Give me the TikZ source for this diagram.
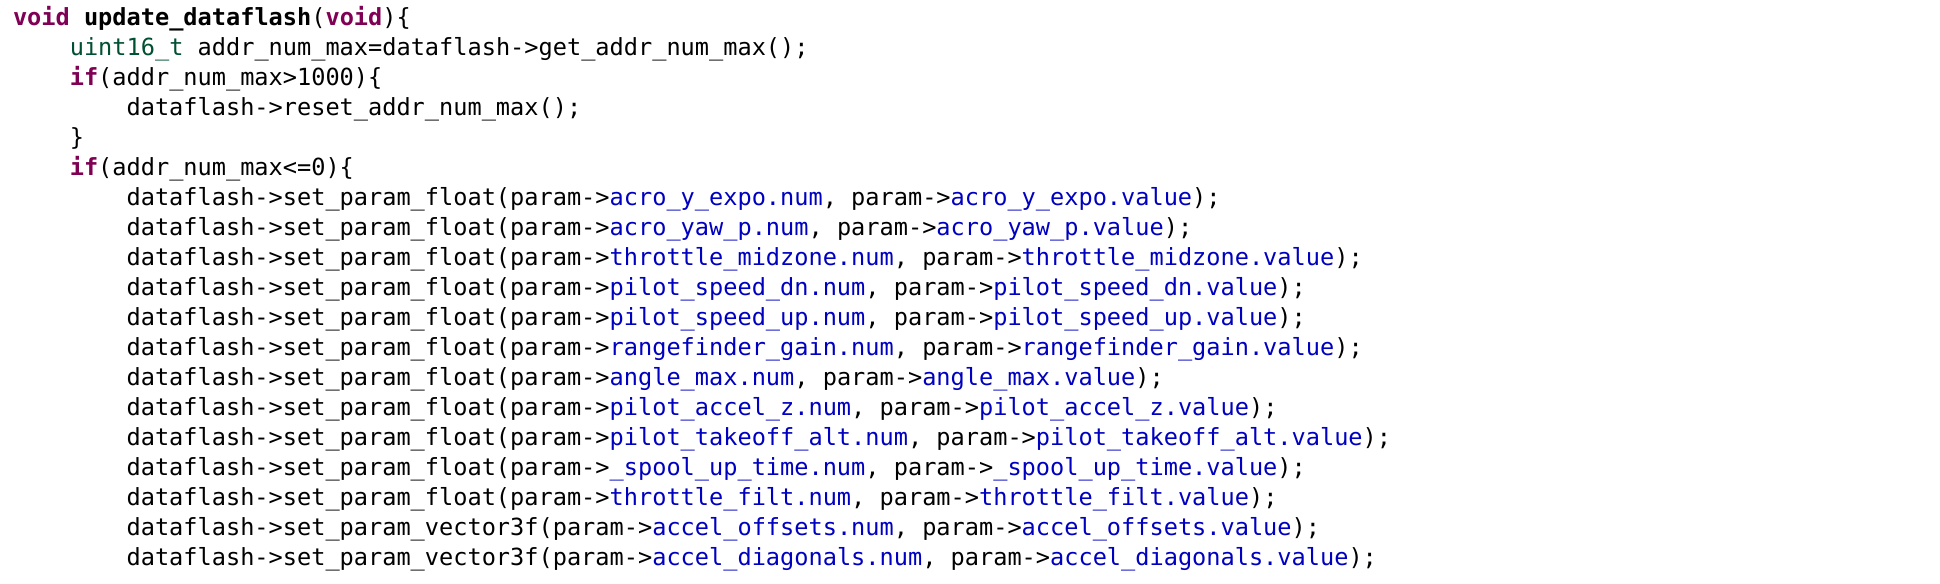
\documentclass[tikz,border=0pt]{standalone}
\usepackage{fontspec}
\newfontfamily\codefont{DejaVu Sans Mono}
\definecolor{kwcol}{HTML}{7F0055}
\definecolor{tycol}{HTML}{005032}
\definecolor{fldcol}{HTML}{0000C0}
\newcommand{\cdkw}[1]{\textbf{\textcolor{kwcol}{#1}}}
\newcommand{\cdty}[1]{\textcolor{tycol}{#1}}
\newcommand{\cdfld}[1]{\textcolor{fldcol}{#1}}
\newcommand{\setf}[1]{dataflash->set\_param\_float(param->\cdfld{#1.num}, param->\cdfld{#1.value});}
\newcommand{\setv}[1]{dataflash->set\_param\_vector3f(param->\cdfld{#1.num}, param->\cdfld{#1.value});}
\begin{document}
\begin{tikzpicture}[x=0.5pt,y=-0.5pt,
  codeline/.style={anchor=base west,inner sep=0pt,outer sep=0pt,
    font=\codefont\fontsize{11.8pt}{15pt}\selectfont}]
\useasboundingbox[fill=white] (0,0) rectangle (1940,584);
\def\ca{13}
\def\cb{69.8}
\def\cc{126.6}
\node[codeline] (l1) at (\ca,25) {\cdkw{void} \textbf{update\_dataflash}(\cdkw{void})\{};
\node[codeline] (l2) at (\cb,55) {\cdty{uint16\_t} addr\_num\_max=dataflash->get\_addr\_num\_max();};
\node[codeline] (l3) at (\cb,85) {\cdkw{if}(addr\_num\_max>1000)\{};
\node[codeline] (l4) at (\cc,115) {dataflash->reset\_addr\_num\_max();};
\node[codeline] (l5) at (\cb,145) {\}};
\node[codeline] (l6) at (\cb,175) {\cdkw{if}(addr\_num\_max<=0)\{};
\node[codeline] (l7) at (\cc,205) {\setf{acro\_y\_expo}};
\node[codeline] (l8) at (\cc,235) {\setf{acro\_yaw\_p}};
\node[codeline] (l9) at (\cc,265) {\setf{throttle\_midzone}};
\node[codeline] (l10) at (\cc,295) {\setf{pilot\_speed\_dn}};
\node[codeline] (l11) at (\cc,325) {\setf{pilot\_speed\_up}};
\node[codeline] (l12) at (\cc,355) {\setf{rangefinder\_gain}};
\node[codeline] (l13) at (\cc,385) {\setf{angle\_max}};
\node[codeline] (l14) at (\cc,415) {\setf{pilot\_accel\_z}};
\node[codeline] (l15) at (\cc,445) {\setf{pilot\_takeoff\_alt}};
\node[codeline] (l16) at (\cc,475) {\setf{\_spool\_up\_time}};
\node[codeline] (l17) at (\cc,505) {\setf{throttle\_filt}};
\node[codeline] (l18) at (\cc,535) {\setv{accel\_offsets}};
\node[codeline] (l19) at (\cc,565) {\setv{accel\_diagonals}};
\end{tikzpicture}
\end{document}
